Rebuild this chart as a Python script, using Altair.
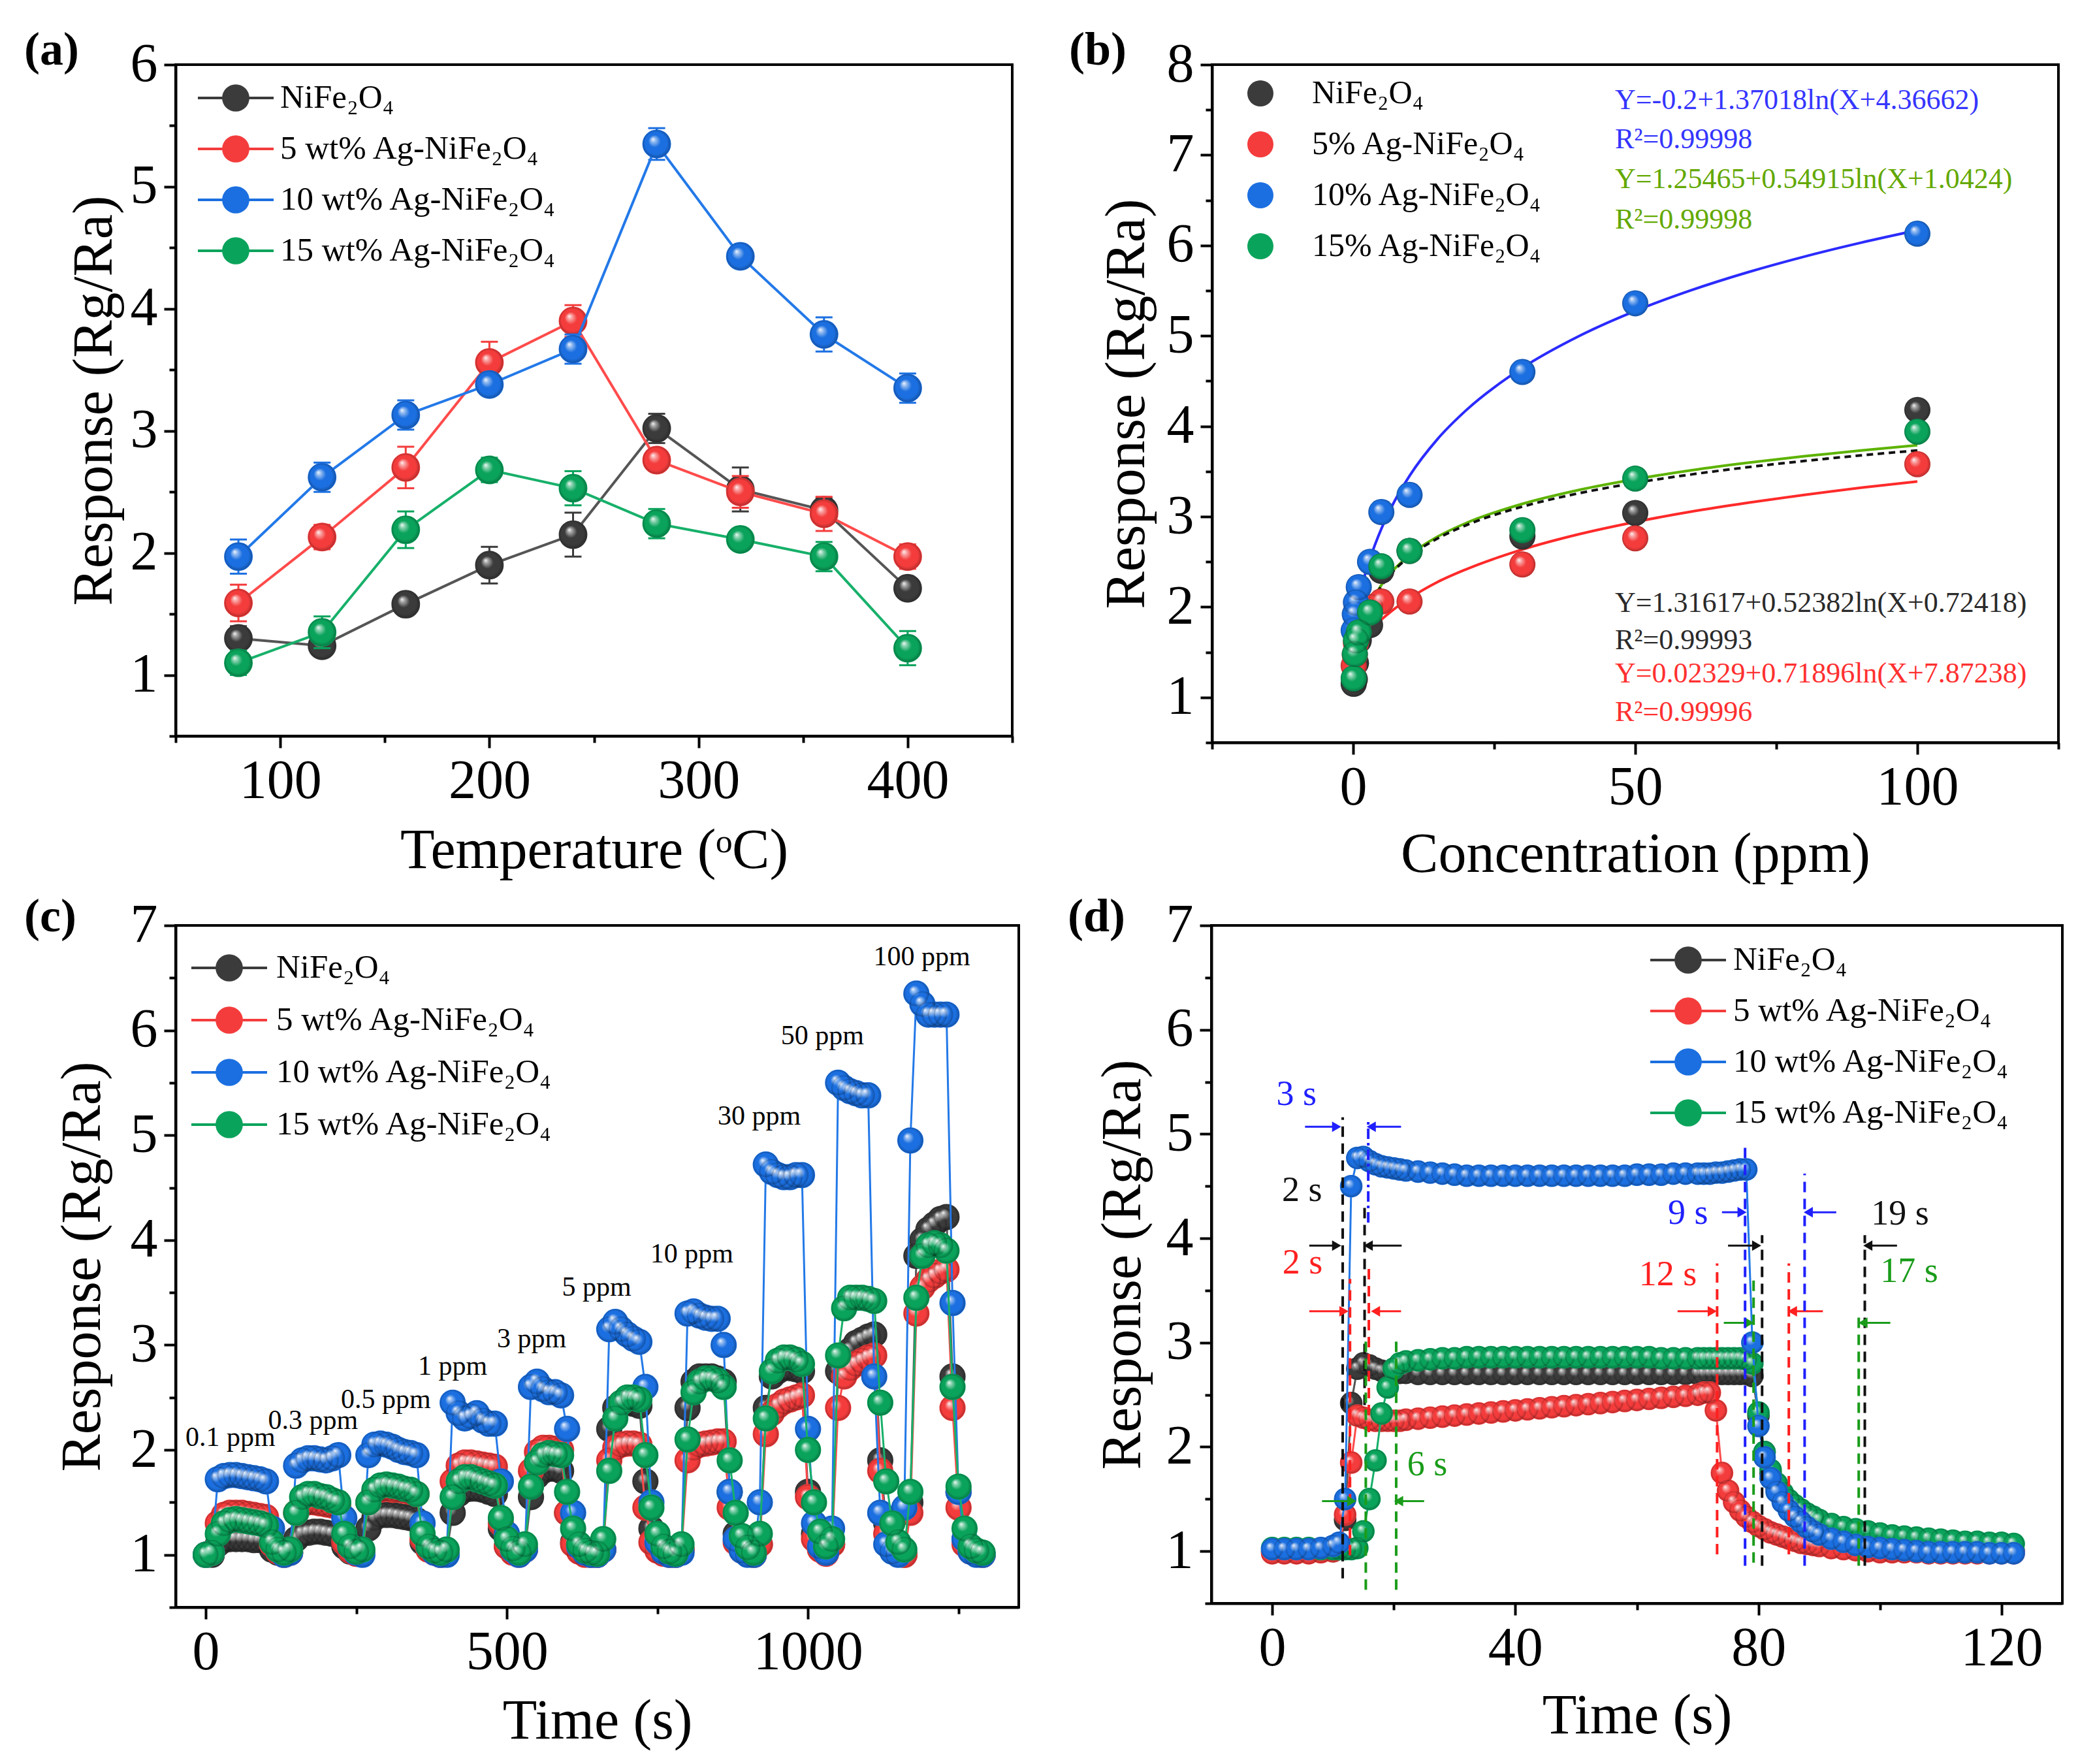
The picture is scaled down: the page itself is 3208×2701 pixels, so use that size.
import altair as alt
import pandas as pd

FONT = "Liberation Serif"

NAMES = ["NiFe₂O₄", "5 wt% Ag-NiFe₂O₄", "10 wt% Ag-NiFe₂O₄", "15 wt% Ag-NiFe₂O₄"]
NAMES_B = ["NiFe₂O₄", "5% Ag-NiFe₂O₄", "10% Ag-NiFe₂O₄", "15% Ag-NiFe₂O₄"]
MARKER_COLORS = ["#3b3b3b", "#f43c3c", "#1b6fe0", "#0aa35b"]
LINE_COLORS = ["#555555", "#ff4b4b", "#2379e8", "#17b06a"]

# ---------------- (a) response vs temperature ----------------
A_TEMP = [80, 120, 160, 200, 240, 280, 320, 360, 400]
A_NIFE = [1.30, 1.24, 1.58, 1.90, 2.15, 3.02, 2.52, 2.35, 1.71]
A_AG5 = [1.59, 2.13, 2.70, 3.56, 3.90, 2.76, 2.50, 2.32, 1.97]
A_AG10 = [1.97, 2.62, 3.13, 3.38, 3.67, 5.35, 4.43, 3.79, 3.35]
A_AG15 = [1.10, 1.35, 2.19, 2.68, 2.53, 2.24, 2.11, 1.97, 1.22]
A_NIFE_ERR = [0.10, 0.06, 0.06, 0.15, 0.18, 0.12, 0.18, 0.10, 0.08]
A_AG5_ERR = [0.15, 0.10, 0.17, 0.17, 0.13, 0.08, 0.13, 0.14, 0.10]
A_AG10_ERR = [0.14, 0.12, 0.12, 0.08, 0.12, 0.13, 0.07, 0.14, 0.12]
A_AG15_ERR = [0.10, 0.13, 0.15, 0.10, 0.14, 0.12, 0.07, 0.12, 0.14]

# ---------------- (b) response vs concentration ----------------
B_CONC = [0.1, 0.3, 0.5, 1, 3, 5, 10, 30, 50, 100]
B_NIFE = [1.15, 1.20, 1.38, 1.63, 1.80, 2.40, 2.62, 2.78, 3.04, 4.18]
B_AG5 = [1.35, 1.47, 1.60, 1.86, 2.00, 2.06, 2.06, 2.47, 2.76, 3.58]
B_AG10 = [1.74, 1.92, 2.05, 2.22, 2.50, 3.05, 3.24, 4.60, 5.36, 6.13]
B_AG15 = [1.21, 1.48, 1.63, 1.72, 1.94, 2.45, 2.62, 2.85, 3.42, 3.94]
B_FIT_X = [0.1, 0.3, 0.5, 1, 2, 3, 5, 7, 10, 15, 20, 30, 40, 50, 60, 70, 80, 90, 100]
B_FIT_AG10 = [1.851, 1.911, 1.968, 2.102, 2.336, 2.536, 2.865, 3.130, 3.451, 3.861, 4.175,
              4.646, 4.996, 5.275, 5.506, 5.704, 5.877, 6.030, 6.168]
B_FIT_AG15 = [1.328, 1.416, 1.493, 1.647, 1.866, 2.022, 2.242, 2.399, 2.574, 2.779, 2.928,
              3.141, 3.295, 3.414, 3.513, 3.596, 3.668, 3.732, 3.789]
B_FIT_NIFE = [1.215, 1.329, 1.422, 1.602, 1.841, 2.005, 2.230, 2.387, 2.559, 2.759, 2.904,
              3.110, 3.258, 3.373, 3.467, 3.547, 3.616, 3.677, 3.732]
B_FIT_AG5 = [1.516, 1.534, 1.551, 1.593, 1.669, 1.739, 1.860, 1.964, 2.096, 2.277, 2.416,
             2.636, 2.805, 2.941, 3.056, 3.154, 3.241, 3.319, 3.389]
B_EQ_TEXT = ["Y=-0.2+1.37018ln(X+4.36662)", "R²=0.99998",
             "Y=1.25465+0.54915ln(X+1.0424)", "R²=0.99998",
             "Y=1.31617+0.52382ln(X+0.72418)", "R²=0.99993",
             "Y=0.02329+0.71896ln(X+7.87238)", "R²=0.99996"]
B_EQ_X = [46.4, 46.4, 46.4, 46.4, 46.4, 46.4, 46.4, 46.4]
B_EQ_Y = [7.60, 7.17, 6.73, 6.28, 2.04, 1.63, 1.26, 0.83]
B_EQ_COLOR = ["#3535ff", "#3535ff", "#63a800", "#63a800", "#2a2a2a", "#2a2a2a", "#ff3030", "#ff3030"]

# ---------------- (c) dynamic response ----------------
C_TIME = [0, 10, 20, 30, 40, 50, 60, 70, 80, 90, 100, 110, 120, 130,
          140, 150, 160, 170, 180, 190, 200, 210, 220, 230, 240, 250,
          260, 270, 280, 290, 300, 310, 320, 330, 340, 350, 360, 370, 380, 390,
          400, 410, 420, 430, 440, 450, 460, 470, 480, 490, 500, 510, 520,
          530, 540, 550, 560, 570, 580, 590, 600, 610, 620, 630, 640, 650,
          660, 670, 680, 690, 700, 710, 720, 730, 740, 750, 760, 770, 780,
          790, 800, 810, 820, 830, 840, 850, 860, 870, 880, 890, 900, 910,
          920, 930, 940, 950, 960, 970, 980, 990, 1000, 1010, 1020, 1030,
          1040, 1050, 1060, 1070, 1080, 1090, 1100, 1110, 1120, 1130, 1140, 1150, 1160,
          1170, 1180, 1190, 1200, 1210, 1220, 1230, 1240, 1250, 1260, 1270, 1280, 1290]
C_AG10 = [1.00, 1.02, 1.72, 1.75, 1.76, 1.76, 1.75, 1.74, 1.73, 1.72, 1.70, 1.25, 1.05, 1.00,
          1.02, 1.85, 1.90, 1.92, 1.92, 1.91, 1.90, 1.92, 1.95, 1.35, 1.08, 1.02,
          1.00, 1.95, 2.05, 2.06, 2.05, 2.03, 2.00, 1.98, 1.97, 1.95, 1.30, 1.08, 1.02, 1.00,
          1.00, 2.45, 2.35, 2.30, 2.32, 2.35, 2.28, 2.25, 2.25, 1.70, 1.20, 1.05, 1.00,
          1.05, 2.60, 2.65, 2.58, 2.55, 2.55, 2.52, 2.20, 1.40, 1.08, 1.02, 1.00, 1.00,
          1.05, 3.15, 3.22, 3.15, 3.10, 3.06, 3.03, 2.60, 1.50, 1.12, 1.03, 1.00, 1.00,
          1.02, 3.30, 3.32, 3.28, 3.26, 3.25, 3.25, 3.00, 1.60, 1.15, 1.04, 1.00, 1.00,
          1.50, 4.72, 4.65, 4.62, 4.60, 4.60, 4.62, 4.62, 2.20, 1.30, 1.08, 1.02,
          1.25, 5.50, 5.45, 5.42, 5.40, 5.38, 5.38, 2.70, 1.40, 1.10, 1.03, 1.00, 1.45,
          4.95, 6.35, 6.25, 6.15, 6.15, 6.15, 6.15, 3.40, 1.60, 1.15, 1.03, 1.00, 1.00]
C_AG15 = [1.00, 1.02, 1.20, 1.30, 1.33, 1.34, 1.33, 1.32, 1.31, 1.30, 1.28, 1.12, 1.05, 1.02,
          1.05, 1.40, 1.55, 1.58, 1.58, 1.56, 1.55, 1.52, 1.50, 1.20, 1.08, 1.03,
          1.05, 1.50, 1.62, 1.66, 1.67, 1.66, 1.65, 1.63, 1.62, 1.58, 1.20, 1.08, 1.04, 1.02,
          1.05, 1.55, 1.70, 1.74, 1.74, 1.72, 1.70, 1.68, 1.66, 1.35, 1.15, 1.06, 1.02,
          1.10, 1.65, 1.88, 1.95, 1.97, 1.96, 1.95, 1.60, 1.25, 1.10, 1.04, 1.02, 1.01,
          1.15, 1.80, 2.30, 2.45, 2.50, 2.50, 2.48, 1.95, 1.45, 1.20, 1.08, 1.03, 1.01,
          1.10, 2.10, 2.55, 2.65, 2.68, 2.68, 2.66, 2.60, 1.90, 1.40, 1.18, 1.07, 1.02,
          1.20, 2.30, 2.75, 2.85, 2.88, 2.88, 2.86, 2.82, 2.00, 1.50, 1.22, 1.08,
          1.15, 2.90, 3.35, 3.45, 3.45, 3.45, 3.44, 3.42, 2.45, 1.70, 1.30, 1.12, 1.05,
          1.60, 3.45, 3.85, 3.95, 3.97, 3.95, 3.90, 2.60, 1.65, 1.25, 1.08, 1.04, 1.02]
C_NIFE = [1.00, 1.00, 1.10, 1.14, 1.15, 1.15, 1.15, 1.15, 1.14, 1.14, 1.13, 1.05, 1.02, 1.00,
          1.02, 1.15, 1.20, 1.21, 1.22, 1.22, 1.21, 1.20, 1.20, 1.08, 1.03, 1.01,
          1.02, 1.25, 1.35, 1.38, 1.38, 1.38, 1.37, 1.36, 1.35, 1.33, 1.12, 1.05, 1.02, 1.00,
          1.02, 1.40, 1.58, 1.62, 1.63, 1.63, 1.62, 1.60, 1.58, 1.25, 1.08, 1.03, 1.01,
          1.05, 1.55, 1.75, 1.80, 1.82, 1.82, 1.80, 1.40, 1.12, 1.04, 1.02, 1.00, 1.00,
          1.05, 2.20, 2.40, 2.45, 2.45, 2.44, 2.42, 1.70, 1.25, 1.08, 1.03, 1.00, 1.00,
          1.05, 2.40, 2.65, 2.70, 2.70, 2.70, 2.68, 2.65, 1.60, 1.20, 1.06, 1.02, 1.00,
          1.10, 2.40, 2.70, 2.75, 2.78, 2.78, 2.77, 2.75, 1.60, 1.20, 1.06, 1.02,
          1.10, 2.75, 2.85, 2.95, 3.02, 3.05, 3.08, 3.10, 1.90, 1.30, 1.08, 1.02, 1.00,
          1.50, 3.85, 4.00, 4.10, 4.15, 4.20, 4.22, 2.70, 1.60, 1.15, 1.04, 1.02, 1.00]
C_AG5 = [1.00, 1.02, 1.30, 1.38, 1.40, 1.40, 1.40, 1.39, 1.38, 1.37, 1.36, 1.10, 1.03, 1.00,
         1.02, 1.40, 1.48, 1.50, 1.50, 1.49, 1.48, 1.47, 1.46, 1.12, 1.04, 1.01,
         1.02, 1.50, 1.60, 1.62, 1.63, 1.62, 1.62, 1.61, 1.60, 1.58, 1.15, 1.05, 1.02, 1.00,
         1.02, 1.70, 1.85, 1.88, 1.88, 1.87, 1.86, 1.85, 1.84, 1.30, 1.08, 1.02, 1.00,
         1.05, 1.80, 1.98, 2.02, 2.02, 2.01, 2.00, 1.40, 1.10, 1.03, 1.00, 1.00, 1.00,
         1.05, 1.90, 2.02, 2.05, 2.06, 2.06, 2.05, 1.45, 1.12, 1.04, 1.01, 1.00, 1.00,
         1.05, 1.90, 2.02, 2.05, 2.06, 2.07, 2.08, 2.08, 1.45, 1.12, 1.04, 1.01, 1.00,
         1.10, 2.15, 2.35, 2.42, 2.46, 2.48, 2.50, 2.52, 1.55, 1.15, 1.05, 1.01,
         1.10, 2.40, 2.70, 2.78, 2.82, 2.85, 2.88, 2.90, 1.80, 1.20, 1.06, 1.02, 1.00,
         1.40, 3.30, 3.55, 3.62, 3.66, 3.70, 3.72, 2.40, 1.45, 1.10, 1.03, 1.01, 1.00]
C_PPM_TEXT = ["0.1 ppm", "0.3 ppm", "0.5 ppm", "1 ppm", "3 ppm", "5 ppm", "10 ppm", "30 ppm", "50 ppm", "100 ppm"]
C_PPM_T = [41, 178, 299, 410, 541, 649, 807, 919, 1024, 1189]
C_PPM_Y = [2.12, 2.28, 2.48, 2.80, 3.06, 3.55, 3.87, 5.18, 5.95, 6.70]

# ---------------- (d) response / recovery ----------------
D_TIME = [0, 2, 4, 6, 8, 10,
          11, 12, 13, 14, 15, 16, 17, 18, 19, 20, 21, 22,
          24, 26, 28, 30, 32, 34, 36, 38, 40, 42, 44, 46, 48, 50, 52, 54, 56, 58, 60, 62, 64, 66, 68, 70,
          71, 72, 73, 74, 75, 76, 77, 78, 79, 80, 81, 82, 83, 84, 85, 86, 87, 88, 89, 90,
          92, 94, 96, 98, 100, 102, 104, 106, 108, 110, 112, 114, 116, 118, 120, 122]
D_AG10 = [1.02, 1.02, 1.02, 1.02, 1.03, 1.05,
          1.08, 1.50, 4.50, 4.77, 4.78, 4.74, 4.71, 4.69, 4.68, 4.67, 4.66, 4.65,
          4.64, 4.63, 4.62, 4.61, 4.60, 4.60, 4.60, 4.60, 4.60, 4.60, 4.60, 4.60, 4.60, 4.60, 4.60, 4.60,
          4.60, 4.60, 4.61, 4.61, 4.61, 4.62, 4.62, 4.62,
          4.62, 4.62, 4.63, 4.63, 4.64, 4.65, 4.66, 4.66, 3.00, 2.20, 1.90, 1.70, 1.57, 1.47, 1.39, 1.33,
          1.28, 1.23, 1.19, 1.16,
          1.12, 1.09, 1.06, 1.04, 1.03, 1.02, 1.01, 1.00, 0.99, 0.99, 0.99, 0.99, 0.99, 0.98, 0.98, 0.98]
D_AG15 = [1.03, 1.03, 1.03, 1.03, 1.02, 1.02,
          1.02, 1.02, 1.02, 1.03, 1.19, 1.50, 1.87, 2.32, 2.57, 2.75, 2.80, 2.82,
          2.83, 2.84, 2.85, 2.85, 2.86, 2.86, 2.86, 2.86, 2.86, 2.86, 2.86, 2.86, 2.86, 2.86, 2.86, 2.86,
          2.86, 2.86, 2.86, 2.86, 2.85, 2.85, 2.85, 2.85,
          2.85, 2.85, 2.85, 2.85, 2.85, 2.85, 2.85, 2.84, 2.80, 2.33, 1.95, 1.78, 1.65, 1.56, 1.49, 1.44,
          1.40, 1.36, 1.33, 1.30,
          1.26, 1.23, 1.21, 1.19, 1.17, 1.15, 1.14, 1.13, 1.12, 1.11, 1.10, 1.09, 1.09, 1.08, 1.08, 1.07]
D_NIFE = [1.00, 1.00, 1.00, 1.00, 1.00, 1.00,
          1.02, 1.30, 2.42, 2.75, 2.80, 2.78, 2.75, 2.73, 2.72, 2.72, 2.71, 2.71,
          2.70, 2.70, 2.70, 2.70, 2.70, 2.70, 2.70, 2.70, 2.70, 2.70, 2.70, 2.70, 2.70, 2.70, 2.70, 2.70,
          2.70, 2.70, 2.70, 2.70, 2.70, 2.70, 2.70, 2.70,
          2.70, 2.70, 2.70, 2.70, 2.70, 2.70, 2.70, 2.70, 2.68, 2.30, 1.95, 1.75, 1.60, 1.50, 1.42, 1.36,
          1.31, 1.27, 1.24, 1.21,
          1.17, 1.14, 1.11, 1.09, 1.07, 1.05, 1.04, 1.03, 1.02, 1.02, 1.01, 1.01, 1.00, 1.00, 1.00, 1.00]
D_AG5 = [0.98, 0.98, 0.98, 0.98, 0.99, 1.00,
         1.05, 1.35, 1.85, 2.30, 2.28, 2.26, 2.25, 2.25, 2.25, 2.25, 2.25, 2.26,
         2.27, 2.28, 2.29, 2.30, 2.31, 2.32, 2.33, 2.34, 2.35, 2.36, 2.37, 2.38, 2.39, 2.40, 2.41, 2.42,
         2.43, 2.44, 2.45, 2.46, 2.47, 2.48, 2.49, 2.50,
         2.52, 2.52, 2.35, 1.75, 1.58, 1.47, 1.39, 1.33, 1.28, 1.24, 1.21, 1.18, 1.16, 1.14, 1.12, 1.10,
         1.08, 1.07, 1.06, 1.05,
         1.03, 1.02, 1.01, 1.00, 0.99, 0.99, 0.99, 0.99, 0.98, 0.98, 0.98, 0.98, 0.98, 0.98, 0.98, 0.98]
D_VLINE_T = [11.6, 15.2, 12.8, 15.9, 15.4, 20.4, 77.8, 87.6, 80.6, 97.5, 73.2, 85.0, 79.2, 96.5]
D_VLINE_Y1 = [0.74, 2.40, 0.96, 2.14, 0.63, 0.63, 0.86, 0.86, 0.86, 0.86, 0.97, 0.97, 0.89, 0.86]
D_VLINE_Y2 = [5.16, 4.30, 3.61, 3.72, 3.04, 3.06, 4.92, 4.62, 4.03, 4.03, 3.76, 3.76, 3.65, 3.24]
D_VLINE_C = ["#111111", "#111111", "#ff2020", "#ff2020", "#1a9c1a", "#1a9c1a", "#2020ff", "#2020ff",
             "#111111", "#111111", "#ff2020", "#ff2020", "#1a9c1a", "#1a9c1a"]
D_DASHDOT_T = [15.8]
D_DASHDOT_Y1 = [4.15]
D_DASHDOT_Y2 = [5.14]
D_ARROW_Y = [5.07, 5.07, 3.93, 3.93, 3.30, 3.30, 1.48, 1.48, 4.25, 4.25, 3.93, 3.93, 3.30, 3.30, 3.19, 3.19]
D_ARROW_FROM = [5.4, 21.2, 6.1, 21.3, 6.1, 21.2, 8.2, 25.0, 74.0, 92.8, 75.0, 102.8, 66.7, 90.6, 74.3, 101.7]
D_ARROW_TO = [10.6, 16.3, 10.6, 15.8, 11.8, 17.0, 13.1, 20.8, 77.3, 88.2, 79.7, 98.0, 72.4, 85.6, 78.5, 97.2]
D_ARROW_C = ["#2020ff", "#2020ff", "#111111", "#111111", "#ff2020", "#ff2020", "#1a9c1a", "#1a9c1a",
             "#2020ff", "#2020ff", "#111111", "#111111", "#ff2020", "#ff2020", "#1a9c1a", "#1a9c1a"]
D_LABEL_TEXT = ["3 s", "2 s", "2 s", "6 s", "9 s", "19 s", "12 s", "17 s"]
D_LABEL_T = [4.0, 4.9, 5.0, 25.5, 68.4, 103.3, 65.1, 104.8]
D_LABEL_Y = [5.38, 4.46, 3.76, 1.83, 4.24, 4.23, 3.65, 3.68]
D_LABEL_C = ["#2020ff", "#111111", "#ff2020", "#1a9c1a", "#2020ff", "#111111", "#ff2020", "#1a9c1a"]

for arr in (C_AG10, C_AG15, C_NIFE, C_AG5):
    assert len(arr) == len(C_TIME), len(arr)
for arr in (D_AG10, D_AG15, D_NIFE, D_AG5):
    assert len(arr) == len(D_TIME), len(arr)

# ---------------- styling helpers ----------------
SHINE = {"gradient": "radial", "x1": 0.36, "y1": 0.32, "r1": 0.0, "x2": 0.5, "y2": 0.5, "r2": 0.5,
         "stops": [{"offset": 0.0, "color": "rgba(255,255,255,0.95)"},
                   {"offset": 0.16, "color": "rgba(255,255,255,0.55)"},
                   {"offset": 0.45, "color": "rgba(255,255,255,0.0)"},
                   {"offset": 0.8, "color": "rgba(0,0,0,0.0)"},
                   {"offset": 1.0, "color": "rgba(0,0,0,0.25)"}]}
LEG_PATH = "M-2,0L-0.65,0M0.65,0L2,0M0.65,0A0.65,0.65,0,1,1,-0.65,0A0.65,0.65,0,1,1,0.65,0Z"


def is_major(mod):
    return f"abs(datum.value % {mod}) < 1e-9"


def x_axis(values, mod, title, title_y):
    return alt.Axis(values=values, title=title, titleY=title_y, titleBaseline="middle",
                    labelExpr=f"{is_major(mod)} ? datum.value : ''",
                    tickSize={"condition": {"test": is_major(mod), "value": 18}, "value": 10},
                    labelPadding=10, labelFlush=False, labelOverlap=False)


def y_axis(values, title, title_x):
    return alt.Axis(values=values, title=title, titleX=title_x, titleBaseline="middle",
                    labelExpr=f"{is_major(1)} ? datum.value : ''",
                    tickSize={"condition": {"test": is_major(1), "value": 18}, "value": 10},
                    labelPadding=10, labelFlush=False, labelOverlap=False)


def line_legend(lx, ly, row_pad, offset):
    return alt.Legend(orient="none", legendX=lx, legendY=ly, title=None, symbolType=LEG_PATH,
                      symbolSize=3364, symbolStrokeWidth=4, labelFont=FONT, labelFontSize=51,
                      labelColor="black", labelLimit=0, labelOffset=offset, rowPadding=row_pad,
                      padding=0, symbolOpacity=1)


def series_layers(df, x_enc, y_enc, names, legend, size, line_width, order, before=None):
    layers = []
    for i in order:
        base = alt.Chart(df).transform_filter(alt.datum.series == names[i])
        if before is not None:
            layers += before(base, i)
        if line_width:
            layers.append(base.mark_line(color=LINE_COLORS[i], strokeWidth=line_width).encode(x=x_enc, y=y_enc))
        enc = dict(x=x_enc, y=y_enc,
                   color=alt.Color("series:N", scale=alt.Scale(domain=names, range=MARKER_COLORS), legend=legend))
        if line_width:
            enc["stroke"] = alt.Stroke("series:N", scale=alt.Scale(domain=names, range=MARKER_COLORS), legend=legend)
        layers.append(base.mark_point(filled=True, size=size, opacity=1, strokeWidth=1.5).encode(**enc))
        layers.append(base.mark_point(filled=True, size=size, opacity=1, fill=SHINE, strokeWidth=0)
                      .encode(x=x_enc, y=y_enc))
    return layers


def panel_tag(text, dx, dy):
    return alt.Chart(pd.DataFrame({"tag": [text]})).mark_text(
        font=FONT, fontSize=72, fontWeight="bold", align="left", baseline="top", color="black"
    ).encode(text="tag:N", x=alt.value(dx), y=alt.value(dy))


def long_df(xname, xs, series_vals, names, extra=None):
    rows = []
    for k, vals in enumerate(series_vals):
        for j, (xv, yv) in enumerate(zip(xs, vals)):
            r = {xname: xv, "resp": yv, "series": names[k]}
            if extra is not None:
                r["err"] = extra[k][j]
            rows.append(r)
    return pd.DataFrame(rows)


# ---------------- panel (a) ----------------
df_a = long_df("temp", A_TEMP, [A_NIFE, A_AG5, A_AG10, A_AG15], NAMES,
               extra=[A_NIFE_ERR, A_AG5_ERR, A_AG10_ERR, A_AG15_ERR])
df_a["lo"] = df_a["resp"] - df_a["err"]
df_a["hi"] = df_a["resp"] + df_a["err"]
xa = alt.X("temp:Q", scale=alt.Scale(domain=[50, 450], nice=False, zero=False),
           axis=x_axis(list(range(50, 451, 50)), 100, "Temperature (ᵒC)", 175))
ya = alt.Y("resp:Q", scale=alt.Scale(domain=[0.5, 6], nice=False, zero=False),
           axis=y_axis([0.5 * k for k in range(1, 13)], "Response (Rg/Ra)", -125))


def err_layers(base, i):
    c = MARKER_COLORS[i]
    return [
        base.mark_rule(color=c, strokeWidth=3).encode(x=xa, y="lo:Q", y2="hi:Q"),
        base.mark_rule(color=c, strokeWidth=3, xOffset=-13, x2Offset=13).encode(x=xa, x2="temp:Q", y="hi:Q"),
        base.mark_rule(color=c, strokeWidth=3, xOffset=-13, x2Offset=13).encode(x=xa, x2="temp:Q", y="lo:Q"),
    ]


panel_a = alt.layer(
    *series_layers(df_a, xa, ya, NAMES, line_legend(61, 20, 20, 37), 1800, 4, [0, 1, 2, 3], before=err_layers),
    panel_tag("(a)", -232, -57),
).properties(width=1281, height=1028)

# ---------------- panel (b) ----------------
df_b = long_df("conc", B_CONC, [B_NIFE, B_AG5, B_AG10, B_AG15], NAMES_B)
xb = alt.X("conc:Q", scale=alt.Scale(domain=[-25, 125], nice=False, zero=False),
           axis=x_axis([-25, 0, 25, 50, 75, 100, 125], 50, "Concentration (ppm)", 171))
yb = alt.Y("resp:Q", scale=alt.Scale(domain=[0.5, 8], nice=False, zero=False),
           axis=y_axis([0.5 * k for k in range(1, 17)], "Response (Rg/Ra)", -131))
fit_specs = [(B_FIT_AG5, "#ff2a2a", None), (B_FIT_AG10, "#2b2bff", None),
             (B_FIT_AG15, "#5db300", None), (B_FIT_NIFE, "#111111", [10, 7])]
fit_layers = []
for vals, col, dash in fit_specs:
    dfit = pd.DataFrame({"conc": B_FIT_X, "resp": vals})
    kw = dict(color=col, strokeWidth=4, interpolate="monotone")
    if dash:
        kw["strokeDash"] = dash
    fit_layers.append(alt.Chart(dfit).mark_line(**kw).encode(x=xb, y=yb))
leg_b = alt.Legend(orient="none", legendX=49, legendY=19, title=None, symbolType="circle", symbolSize=1600,
                   symbolStrokeWidth=0, labelFont=FONT, labelFontSize=50, labelColor="black", labelLimit=0,
                   labelOffset=54, rowPadding=28, padding=0, symbolOpacity=1)
df_eq = pd.DataFrame({"conc": B_EQ_X, "resp": B_EQ_Y, "txt": B_EQ_TEXT, "col": B_EQ_COLOR})
eq_layers = []
for col in dict.fromkeys(B_EQ_COLOR):
    eq_layers.append(alt.Chart(df_eq).transform_filter(alt.datum.col == col).mark_text(
        font=FONT, fontSize=44, align="left", baseline="middle", color=col).encode(x=xb, y=yb, text="txt:N"))
panel_b = alt.layer(
    *fit_layers,
    *series_layers(df_b, xb, yb, NAMES_B, leg_b, 1600, 0, [0, 1, 2, 3]),
    *eq_layers,
    panel_tag("(b)", -219, -57),
).properties(width=1296, height=1038)

# ---------------- panel (c) ----------------
df_c = long_df("t", C_TIME, [C_NIFE, C_AG5, C_AG10, C_AG15], NAMES)
xc = alt.X("t:Q", scale=alt.Scale(domain=[-50, 1350], nice=False, zero=False),
           axis=x_axis([0, 250, 500, 750, 1000, 1250], 500, "Time (s)", 174))
yc = alt.Y("resp:Q", scale=alt.Scale(domain=[0.5, 7], nice=False, zero=False),
           axis=y_axis([0.5 * k for k in range(1, 15)], "Response (Rg/Ra)", -143))
df_ppm = pd.DataFrame({"t": C_PPM_T, "resp": C_PPM_Y, "txt": C_PPM_TEXT})
panel_c = alt.layer(
    *series_layers(df_c, xc, yc, NAMES, line_legend(51, 34, 22, 41), 1500, 3, [0, 1, 2, 3]),
    alt.Chart(df_ppm).mark_text(font=FONT, fontSize=42, align="center", baseline="middle", color="black")
    .encode(x=xc, y=yc, text="txt:N"),
    panel_tag("(c)", -232, -48),
).properties(width=1291, height=1044)

# ---------------- panel (d) ----------------
df_d = long_df("t", D_TIME, [D_NIFE, D_AG5, D_AG10, D_AG15], NAMES)
xd = alt.X("t:Q", scale=alt.Scale(domain=[-10, 130], nice=False, zero=False),
           axis=x_axis([0, 20, 40, 60, 80, 100, 120], 40, "Time (s)", 172))
yd = alt.Y("resp:Q", scale=alt.Scale(domain=[0.5, 7], nice=False, zero=False),
           axis=y_axis([0.5 * k for k in range(1, 15)], "Response (Rg/Ra)", -136))
df_vl = pd.DataFrame({"t": D_VLINE_T, "resp": D_VLINE_Y1, "resp2": D_VLINE_Y2, "col": D_VLINE_C})
df_dd = pd.DataFrame({"t": D_DASHDOT_T, "resp": D_DASHDOT_Y1, "resp2": D_DASHDOT_Y2})
df_ar = pd.DataFrame({"t": D_ARROW_FROM, "t2": D_ARROW_TO, "resp": D_ARROW_Y, "col": D_ARROW_C})
df_ar["shape"] = ["triangle-right" if b > a else "triangle-left" for a, b in zip(D_ARROW_FROM, D_ARROW_TO)]
df_lab = pd.DataFrame({"t": D_LABEL_T, "resp": D_LABEL_Y, "txt": D_LABEL_TEXT, "col": D_LABEL_C})
ann = []
for col in dict.fromkeys(D_VLINE_C + D_ARROW_C):
    ann.append(alt.Chart(df_vl).transform_filter(alt.datum.col == col)
               .mark_rule(color=col, strokeWidth=4, strokeDash=[16, 10]).encode(x=xd, y=yd, y2="resp2:Q"))
    ann.append(alt.Chart(df_ar).transform_filter(alt.datum.col == col)
               .mark_rule(color=col, strokeWidth=3).encode(x=xd, x2="t2:Q", y=yd))
    for shp in ("triangle-right", "triangle-left"):
        ann.append(alt.Chart(df_ar).transform_filter((alt.datum.col == col) & (alt.datum.shape == shp))
                   .mark_point(shape=shp, filled=True, size=260, color=col, opacity=1)
                   .encode(x=alt.X("t2:Q", scale=alt.Scale(domain=[-10, 130], nice=False, zero=False)), y=yd))
    ann.append(alt.Chart(df_lab).transform_filter(alt.datum.col == col)
               .mark_text(font=FONT, fontSize=54, align="center", baseline="middle", color=col)
               .encode(x=xd, y=yd, text="txt:N"))
ann.append(alt.Chart(df_dd).mark_rule(color="#2020ff", strokeWidth=4, strokeDash=[16, 6, 4, 6])
           .encode(x=xd, y=yd, y2="resp2:Q"))
panel_d = alt.layer(
    *series_layers(df_d, xd, yd, NAMES, line_legend(699, 22, 20, 38), 1100, 3, [0, 1, 3, 2]),
    *ann,
    panel_tag("(d)", -220, -48),
).properties(width=1303, height=1038)

# ---------------- assemble ----------------
RES = dict(color="independent", stroke="independent")
row1 = alt.hconcat(panel_a, panel_b, spacing=81).resolve_scale(
    x="independent", y="independent", **RES).resolve_legend(**RES)
row2 = alt.hconcat(panel_c, panel_d, spacing=71).resolve_scale(
    x="independent", y="independent", **RES).resolve_legend(**RES)
chart = alt.vconcat(row1, row2, spacing=13).resolve_scale(
    x="independent", y="independent", **RES).resolve_legend(**RES)
chart = chart.properties(
    padding={"left": 27, "top": 31, "right": 5, "bottom": 5},
    background="white",
).configure_view(stroke="black", strokeWidth=4).configure_axis(
    domainColor="black", domainWidth=4, tickColor="black", tickWidth=4,
    labelFont=FONT, labelFontSize=84, labelColor="black",
    titleFont=FONT, titleFontSize=86, titleFontWeight="normal", titleColor="black", grid=False,
)

chart.save("out.html", embed_options={"renderer": "svg", "actions": False})
